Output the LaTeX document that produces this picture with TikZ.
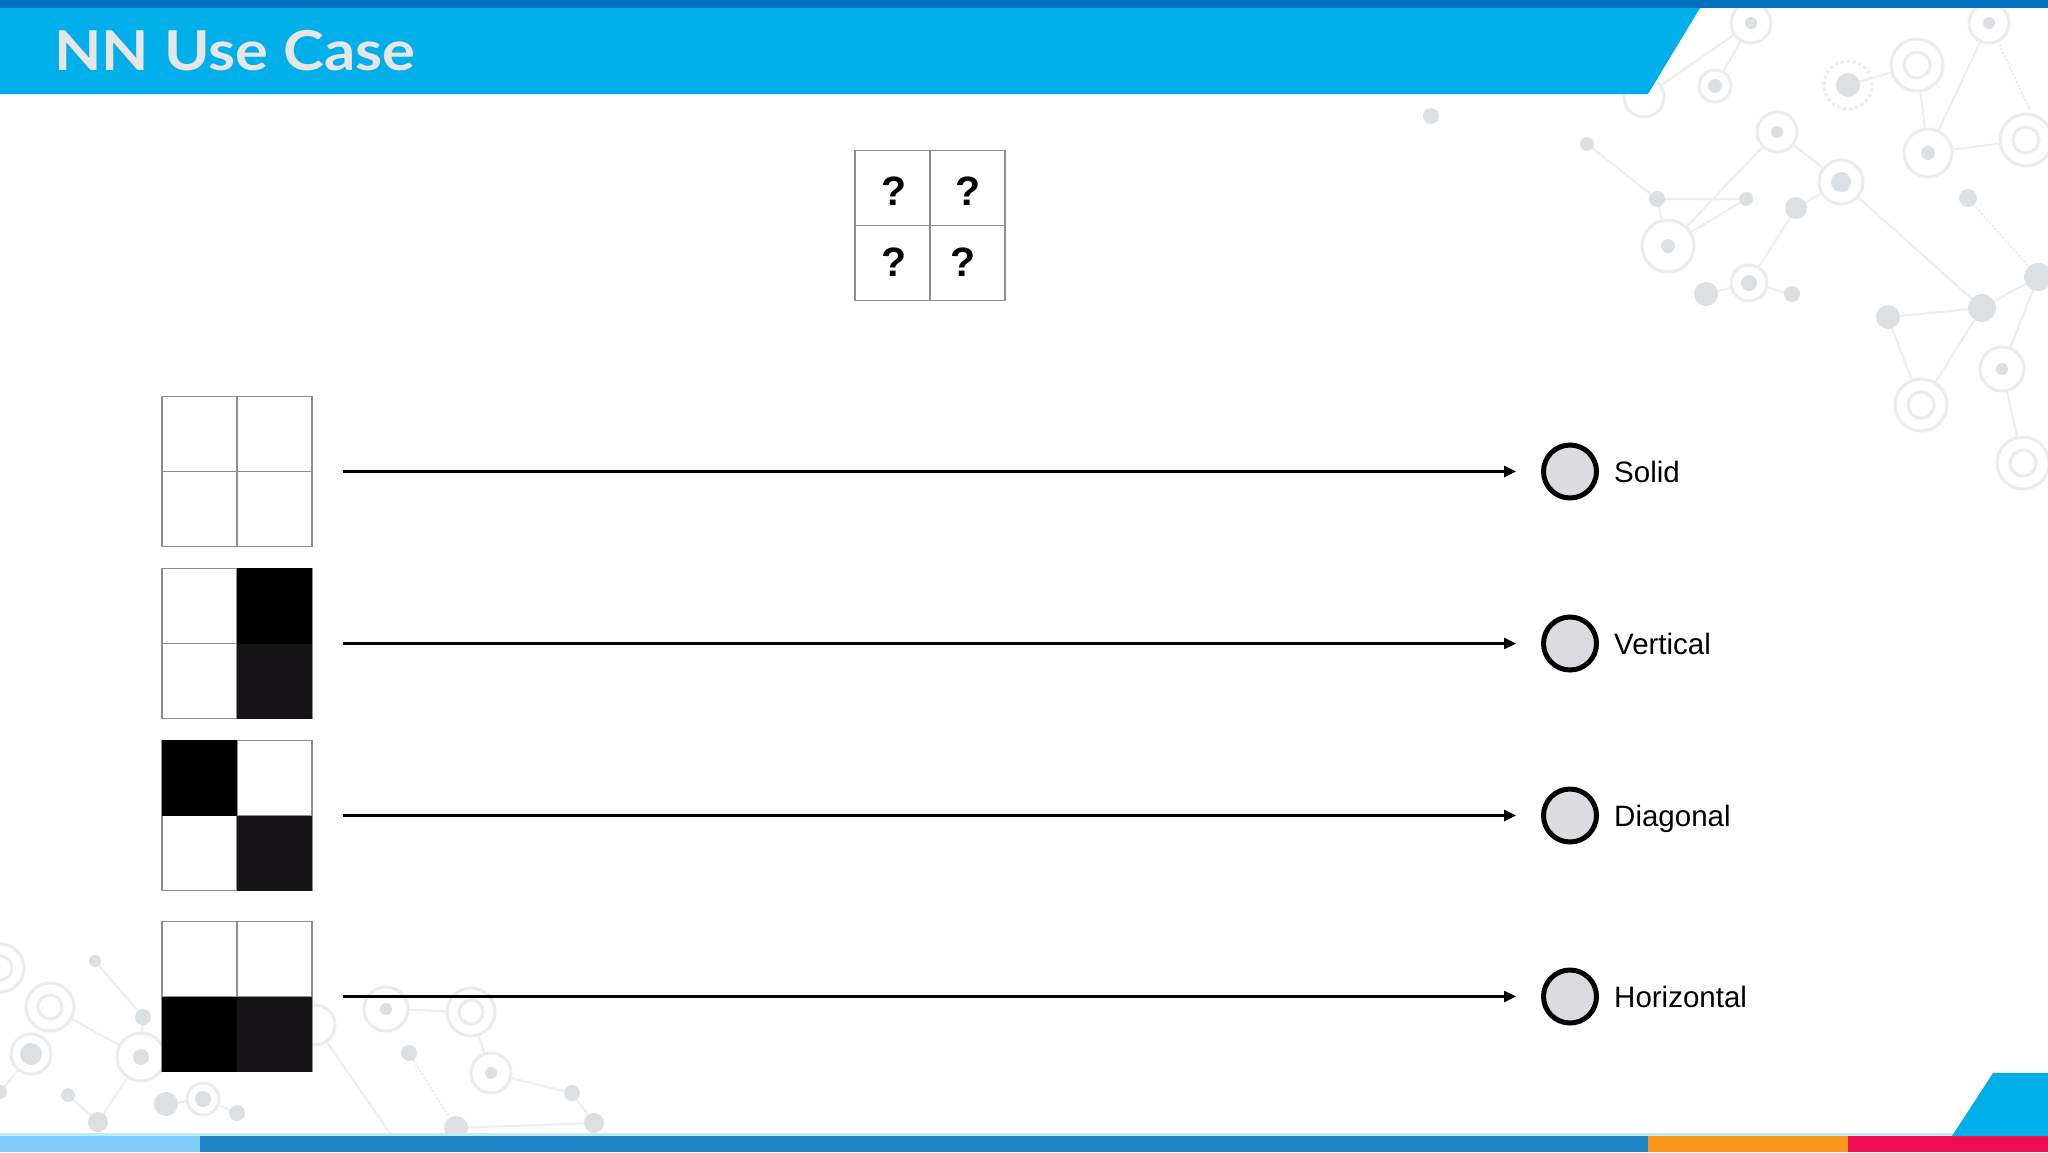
\documentclass[tikz,border=0pt]{standalone}
\usepackage{fontspec}
\usepackage{graphicx}
\setmainfont{Liberation Sans}
\newfontfamily\titlefont{Lato}
\usetikzlibrary{arrows.meta}
\definecolor{hdr}{HTML}{00AEEA}
\definecolor{topbar}{HTML}{0070C0}
\definecolor{titlec}{HTML}{E6E6E6}
\definecolor{gridc}{HTML}{8E8E8E}
\definecolor{darkc}{HTML}{161416}
\definecolor{circfill}{HTML}{DCDBDF}
\definecolor{barA}{HTML}{7FCBFA}
\definecolor{barB}{HTML}{2386C8}
\definecolor{barC}{HTML}{F7981C}
\definecolor{barD}{HTML}{EE0B52}
\definecolor{barLine}{HTML}{C4E8FB}
\definecolor{decoL}{HTML}{ECEEEF}
\definecolor{decoD}{HTML}{DDE0E2}
\definecolor{decoR}{HTML}{EAECEE}
\begin{document}
\begin{tikzpicture}[x=1pt,y=-1pt,
  gridbox/.style={minimum size=150pt,inner sep=0pt,fill=white,draw=none},
  gridln/.style={draw=gridc,line width=1.5pt},
  qmark/.style={inner sep=0pt,font=\bfseries\fontsize{41}{41}\selectfont},
  outc/.style={circle,draw=black,line width=5pt,fill=circfill,minimum size=53pt,inner sep=0pt},
  lbl/.style={anchor=base west,inner sep=0pt,font=\fontsize{29.5}{32}\selectfont},
  arr/.style={line width=2.5pt,-{Triangle[length=12pt,width=11pt]},shorten <=31pt,shorten >=25pt},
  bgline/.style={draw=decoL,line width=2pt},
  bgdot/.style={fill=decoD},
  bgring/.style={draw=decoR,line width=3pt}]
\useasboundingbox (0,0) rectangle (2048,1152);
\fill[white] (0,0) rectangle (2048,1152);

% ---- background network decoration (top right) ----
\coordinate (A) at (1751,23);  \coordinate (B) at (1715,86);
\coordinate (C) at (1644,97);  \coordinate (D) at (1431,116);
\coordinate (E) at (1917,65);  \coordinate (F) at (1848,85);
\coordinate (G) at (1989,23);  \coordinate (H) at (1587,144);
\coordinate (I) at (1777,132); \coordinate (J) at (1928,153);
\coordinate (K) at (2026,140); \coordinate (L) at (1657,199);
\coordinate (M) at (1746,199); \coordinate (N) at (1841,182);
\coordinate (O) at (1796,208); \coordinate (P) at (1668,246);
\coordinate (Q) at (1968,198); \coordinate (R) at (1706,294);
\coordinate (S) at (1749,283); \coordinate (T) at (1792,294);
\coordinate (U) at (1888,317); \coordinate (V) at (1982,308);
\coordinate (W) at (2038,277); \coordinate (X) at (2002,369);
\coordinate (Y) at (1921,405); \coordinate (Z) at (2023,463);
\draw[bgline] (A)--(C) (A)--(B) (E)--(F) (E)--(J) (G)--(J) (J)--(K)
  (H)--(L) (L)--(P) (L)--(M) (M)--(P) (P)--(I) (I)--(N) (N)--(O) (O)--(S)
  (S)--(R) (S)--(T) (N)--(V) (U)--(V) (V)--(W) (U)--(Y) (V)--(Y) (W)--(X) (X)--(Z);
\draw[bgline,dotted] (Q)--(W) (G)--(2030,110);
\foreach \p/\r in {A/20,C/20,G/20,I/20,J/24,N/22,P/26,S/18,X/22,B/16}
  {\fill[white] (\p) circle (\r pt); \draw[bgring] (\p) circle (\r pt);}
\foreach \p in {E,K,Y,Z}
  {\fill[white] (\p) circle (26pt); \draw[bgring] (\p) circle (26pt) (\p) circle (13pt);}
\draw[bgring,dashed] (F) circle (24pt);
\foreach \p/\r in {A/6,B/7,D/8,F/12,G/6,H/7,I/6,J/7,L/8,M/7,N/10,O/11,P/7,Q/9,R/12,S/8,T/8,U/12,V/14,W/14,X/6}
  {\fill[bgdot] (\p) circle (\r pt);}

% ---- background network decoration (bottom left) ----
\coordinate (a1) at (0,968);   \coordinate (a2) at (95,961);
\coordinate (a3) at (50,1007); \coordinate (a4) at (143,1017);
\coordinate (a5) at (141,1057);\coordinate (a6) at (31,1054);
\coordinate (a7) at (0,1092);  \coordinate (a8) at (68,1095);
\coordinate (a9) at (98,1122); \coordinate (b1) at (166,1104);
\coordinate (b2) at (203,1099);\coordinate (b3) at (237,1113);
\coordinate (b4) at (386,1009);\coordinate (b5) at (471,1012);
\coordinate (b6) at (409,1053);\coordinate (b7) at (491,1073);
\coordinate (b8) at (572,1093);\coordinate (b9) at (456,1128);
\coordinate (c1) at (594,1123);\coordinate (c2) at (315,1025);
\coordinate (c3) at (392,1136);
\draw[bgline] (a2)--(a4)--(a5) (a3)--(a5) (a5)--(a9)--(a8) (a6)--(a7)
  (b1)--(b2)--(b3) (b4)--(b5)--(b7)--(b8)--(c1) (b9)--(c1) (c2)--(c3);
\draw[bgline,dotted] (b6)--(b9);
\foreach \p/\r in {a5/24,a6/20,b4/22,b7/20,b2/16,c2/20}
  {\fill[white] (\p) circle (\r pt); \draw[bgring] (\p) circle (\r pt);}
\foreach \p in {a1,a3,b5}
  {\fill[white] (\p) circle (24pt); \draw[bgring] (\p) circle (24pt) (\p) circle (12pt);}
\foreach \p/\r in {a2/6,a4/8,a5/8,a6/11,a7/7,a8/7,a9/10,b1/12,b2/8,b3/8,b4/6,b6/8,b7/6,b8/8,b9/12,c1/10}
  {\fill[bgdot] (\p) circle (\r pt);}

% ---- header ----
\fill[topbar] (0,0) rectangle (2048,8);
\fill[hdr] (0,8) -- (1700,8) -- (1648,94) -- (0,94) -- cycle;
\node[anchor=base west,inner sep=0pt,text=titlec] (title) at (54,70)
  {\titlefont\bfseries\fontsize{55}{60}\selectfont\scalebox{1.12}[1]{NN Use Case}};

% ---- footer ----
\fill[barLine] (0,1133) rectangle (2048,1136);
\fill[barA] (0,1136) rectangle (200,1152);
\fill[barB] (200,1136) rectangle (1648,1152);
\fill[barC] (1648,1136) rectangle (1848,1152);
\fill[barD] (1848,1136) rectangle (2048,1152);
\fill[hdr] (1993,1073) -- (2048,1073) -- (2048,1136) -- (1952,1136) -- cycle;

% ---- unknown input grid ----
\node[gridbox] (q) at (930,225.5) {};
\draw[gridln] (q.north west) rectangle (q.south east) (q.north)--(q.south) (q.west)--(q.east);
\node[qmark] (q1) at (894,191) {?};
\node[qmark] (q2) at (968,191) {?};
\node[qmark] (q3) at (894,262) {?};
\node[qmark] (q4) at (963,262) {?};

% ---- pattern grids ----
\node[gridbox] (g1) at (237,471.5) {};
\node[gridbox] (g2) at (237,643.5) {};
\node[gridbox] (g3) at (237,815.5) {};
\node[gridbox] (g4) at (237,996.5) {};
\foreach \g in {g1,g2,g3,g4}
  \draw[gridln] (\g.north west) rectangle (\g.south east) (\g.north)--(\g.south) (\g.west)--(\g.east);
% vertical
\fill[black] (g2.north) rectangle (g2.east);
\fill[darkc] (g2.center) rectangle (g2.south east);
% diagonal
\fill[black] (g3.north west) rectangle (g3.center);
\fill[darkc] (g3.center) rectangle (g3.south east);
% horizontal
\fill[black] (g4.west) rectangle (g4.south);
\fill[darkc] (g4.center) rectangle (g4.south east);

% ---- outputs ----
\node[outc] (o1) at (1570,471.5) {};
\node[outc] (o2) at (1570,643.5) {};
\node[outc] (o3) at (1570,815.5) {};
\node[outc] (o4) at (1570,996.5) {};
\node[lbl] (l1) at ([xshift=44pt,yshift=-11pt]o1.center) {Solid};
\node[lbl] (l2) at ([xshift=44pt,yshift=-11pt]o2.center) {Vertical};
\node[lbl] (l3) at ([xshift=44pt,yshift=-11pt]o3.center) {Diagonal};
\node[lbl] (l4) at ([xshift=44pt,yshift=-11pt]o4.center) {Horizontal};

% ---- connectors ----
\draw[arr] (g1) -- (o1);
\draw[arr] (g2) -- (o2);
\draw[arr] (g3) -- (o3);
\draw[arr] (g4) -- (o4);
\end{tikzpicture}
\end{document}
